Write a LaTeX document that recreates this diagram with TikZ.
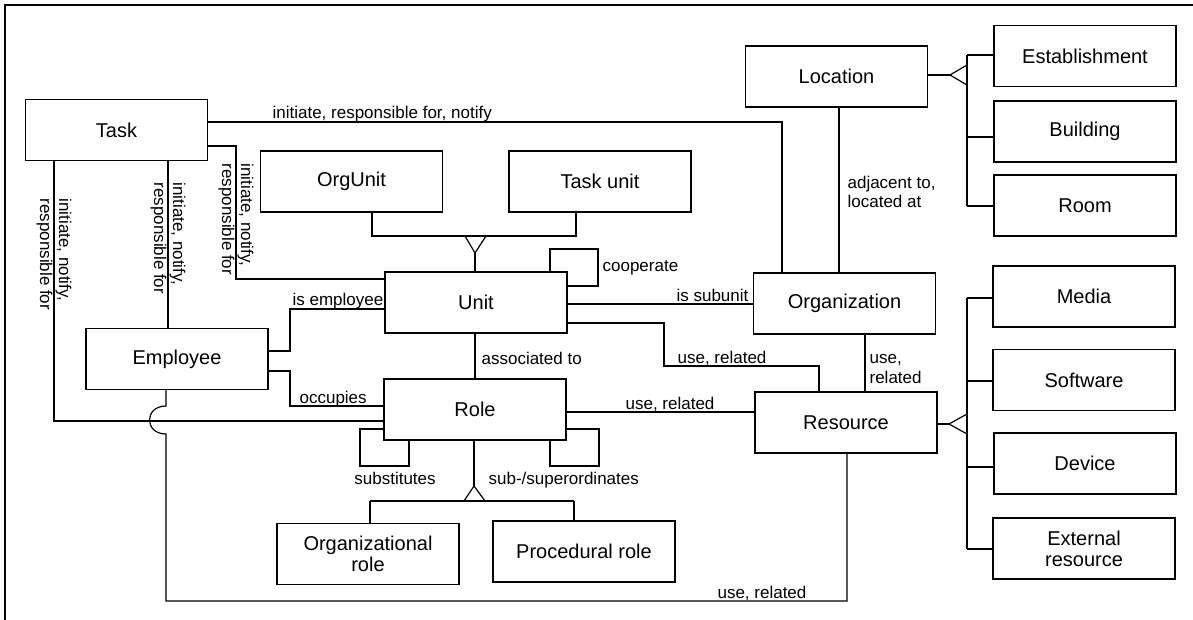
\documentclass[tikz,border=0pt]{standalone}
\usepackage{fontspec}
\setmainfont{Liberation Sans}
\begin{document}
\begin{tikzpicture}[x=1pt,y=-1pt, line width=1.2pt,
  box/.style={draw, rectangle, minimum width=182pt, minimum height=61pt, inner sep=0pt, align=center, font=\fontsize{20}{21}\selectfont},
  lbl/.style={inner sep=0pt, font=\fontsize{17}{20}\selectfont, align=left},
  vlbl/.style={lbl, rotate=-90, anchor=west, font=\fontsize{17}{19}\selectfont},
  frameline/.style={line width=2pt}]
\useasboundingbox (0,0) rectangle (1193,620);
\draw[frameline] (5,620) -- (5,5) -- (1193,5);

% boxes
\node[box] (task) at (116.5,130) {Task};
\node[box] (orgunit) at (351.5,181.5) {OrgUnit};
\node[box] (taskunit) at (600,181.5) {Task unit};
\node[box] (unit) at (476,302.5) {Unit};
\node[box] (employee) at (177,359) {Employee};
\node[box] (role) at (475,409.5) {Role};
\node[box] (orgrole) at (368,554) {Organizational\\role};
\node[box] (procrole) at (584,551.5) {Procedural role};
\node[box] (location) at (836.5,76.5) {Location};
\node[box] (org) at (844.5,303.5) {Organization};
\node[box] (resource) at (846,422.5) {Resource};
\node[box] (establishment) at (1085,56) {Establishment};
\node[box] (building) at (1085,131.5) {Building};
\node[box] (room) at (1085,205.5) {Room};
\node[box] (media) at (1084,296.5) {Media};
\node[box] (software) at (1084,380) {Software};
\node[box] (device) at (1085,463.5) {Device};
\node[box] (external) at (1084,548.5) {External\\resource};

% Task -> Organization
\draw (task.east |- 0,122) -- (782,122) -- (org.north -| 782,0);
\node[lbl, anchor=base west] (l1) at (272,119) {initiate, responsible for, notify};
% Task -> Unit
\draw (task.east |- 0,146) -- (236,146) -- (236,279) -- (unit.west |- 0,279);
\node[vlbl] (l2) at (236,163) {initiate, notify,\\responsible for};
% Task -> Employee
\draw (task.south -| 168,0) -- (employee.north -| 168,0);
\node[vlbl] (l3) at (168,182) {initiate, notify,\\responsible for};
% Task -> Role
\draw (task.south -| 54,0) -- (54,421) -- (role.west |- 0,421);
\node[vlbl] (l4) at (54,198) {initiate, notify,\\responsible for};
% Employee -> Resource (with hop)
\draw (employee.south -| 166,0) -- (166,406) .. controls (144,406) and (144,434) .. (166,434) -- (166,601) -- (847,601) -- (resource.south -| 847,0);
\node[lbl, anchor=base east] (l5) at (807,598) {use, related};
% Employee -> Unit
\draw (employee.east |- 0,351) -- (290,351) -- (290,309) -- (unit.west |- 0,309);
\node[lbl, anchor=base west] (l6) at (292,305) {is employee};
% Employee -> Role
\draw (employee.east |- 0,371) -- (290,371) -- (290,406) -- (role.west |- 0,406);
\node[lbl, anchor=base west] (l7) at (299,403) {occupies};
% generalization OrgUnit / Task unit -> Unit
\draw (orgunit.south -| 372,0) -- (372,236) -- (576,236) -- (taskunit.south -| 576,0);
\draw (465,236) -- (475,253) -- (486,236);
\draw (475,253) -- (unit.north -| 475,0);
% cooperate
\draw (unit.north -| 550,0) -- (550,249) -- (598,249) -- (598,286) -- (unit.east |- 0,286);
\node[lbl, anchor=base west] (l8) at (602,271) {cooperate};
% Unit -> Organization
\draw (unit.east |- 0,304) -- (org.west |- 0,304);
\node[lbl, anchor=base east] (l9) at (749,301) {is subunit};
% Unit -> Resource
\draw (unit.east |- 0,323) -- (664,323) -- (664,366) -- (819,366) -- (resource.north -| 819,0);
\node[lbl, anchor=base west] (l10) at (677,363) {use, related};
% Location -> Organization
\draw (location.south -| 839,0) -- (org.north -| 839,0);
\node[lbl, anchor=base west, font=\fontsize{17}{19}\selectfont] (l11) at (847,208) {adjacent to,\\located at};
% Organization -> Resource
\draw (org.south -| 865,0) -- (resource.north -| 865,0);
\node[lbl, anchor=base west] (l12) at (869,383) {use,\\related};
% Role -> Resource
\draw (role.east |- 0,412) -- (resource.west |- 0,412);
\node[lbl, anchor=base west] (l13) at (625,409) {use, related};
% Unit -> Role
\draw (unit.south -| 475,0) -- (role.north -| 475,0);
\node[lbl, anchor=base west] (l14) at (481,364) {associated to};
% substitutes
\draw (role.south -| 409,0) -- (409,466) -- (360,466) -- (360,429) -- (role.west |- 0,429);
\node[lbl, anchor=base] (l15) at (395,484) {substitutes};
% sub-/superordinates
\draw (role.east |- 0,429) -- (599,429) -- (599,466) -- (550,466) -- (role.south -| 550,0);
\node[lbl, anchor=base west] (l16) at (488,484) {sub-/superordinates};
% Role generalization
\draw (role.south -| 474,0) -- (474,486);
\draw (464,501) -- (474,486) -- (485,501);
\draw (370,501) -- (574,501);
\draw (370,501) -- (orgrole.north -| 370,0);
\draw (574,501) -- (procrole.north -| 574,0);
% Location specialization
\draw (location.east |- 0,75) -- (950,75);
\draw (967,65) -- (950,75) -- (967,85);
\draw (967,55) -- (967,206);
\draw (967,55) -- (establishment.west |- 0,55);
\draw (967,137) -- (building.west |- 0,137);
\draw (967,206) -- (room.west |- 0,206);
% Resource specialization
\draw (resource.east |- 0,424) -- (949,424);
\draw (967,414) -- (949,424) -- (967,434);
\draw (967,298) -- (967,549);
\draw (967,298) -- (media.west |- 0,298);
\draw (967,381) -- (software.west |- 0,381);
\draw (967,467) -- (device.west |- 0,467);
\draw (967,549) -- (external.west |- 0,549);
\end{tikzpicture}
\end{document}
